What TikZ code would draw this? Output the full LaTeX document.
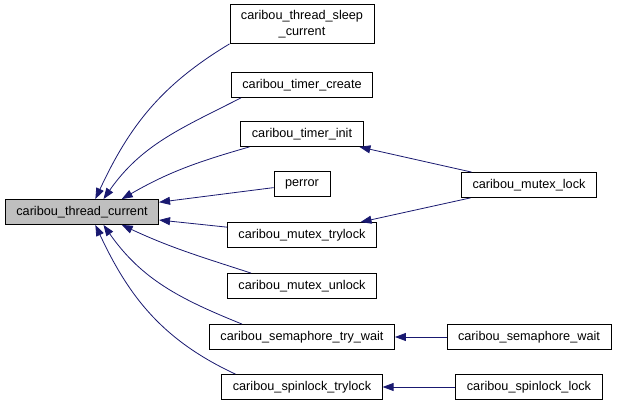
\documentclass[tikz,border=0pt]{standalone}
\usepackage{fontspec}
\setmainfont{Liberation Sans}
\usetikzlibrary{arrows.meta,positioning}
\definecolor{edgeblue}{HTML}{191970}
\definecolor{nodegray}{HTML}{BFBFBF}

\begin{document}
\begin{tikzpicture}[
  x=1pt, y=1pt,
  fn/.style={draw=black, line width=0.8pt, fill=white, align=center,
    inner xsep=11pt, inner ysep=0pt, minimum height=25pt,
    font=\fontsize{12.7}{15.5}\selectfont},
  callee/.style={fn, fill=nodegray},
  call/.style={draw=edgeblue, line width=0.8pt, -{Triangle[length=11pt,width=8pt]}}
]
\useasboundingbox (0,0) rectangle (619,407);
\node[callee] (current) at (82,195) {caribou\_thread\_current};

% direct callers
\node[fn, minimum height=39pt] (sleep) at (302,383) {caribou\_thread\_sleep\\\_current};
\node[fn] (tcreate) at (302,322) {caribou\_timer\_create};
\node[fn] (tinit) at (302,273) {caribou\_timer\_init};
\node[fn] (perror) at (302,223) {perror};
\node[fn] (mtry) at (302,172) {caribou\_mutex\_trylock};
\node[fn] (munlock) at (302,121) {caribou\_mutex\_unlock};
\node[fn] (stry) at (302,70) {caribou\_semaphore\_try\_wait};
\node[fn] (sptry) at (302,20) {caribou\_spinlock\_trylock};

% second level
\node[fn] (mlock) at (529,222) {caribou\_mutex\_lock};
\node[fn] (swait) at (529,70) {caribou\_semaphore\_wait};
\node[fn] (splock) at (529,20) {caribou\_spinlock\_lock};

\draw[call] (sleep.south west) to[out=211,in=65] (current.44);
\draw[call] ([xshift=10pt]tcreate.south west) to[out=207,in=55] (current.31);
\draw[call] ([xshift=9pt]tinit.south west) to[out=196,in=30] (current.18);
\draw[call] (perror) -- (current);
\draw[call] (mtry) -- (current);
\draw[call] ([xshift=24pt]munlock.north west) to[out=162,in=-25] (current.-18);
\draw[call] ([xshift=33pt]stry.north west) to[out=158,in=-55] (current.-31);
\draw[call] ([xshift=14pt]sptry.north west) to[out=155,in=-65] (current.-44);

\draw[call] (mlock) -- (tinit);
\draw[call] (mlock) -- (mtry);
\draw[call] (swait) -- (stry);
\draw[call] (splock) -- (sptry);
\end{tikzpicture}
\end{document}
